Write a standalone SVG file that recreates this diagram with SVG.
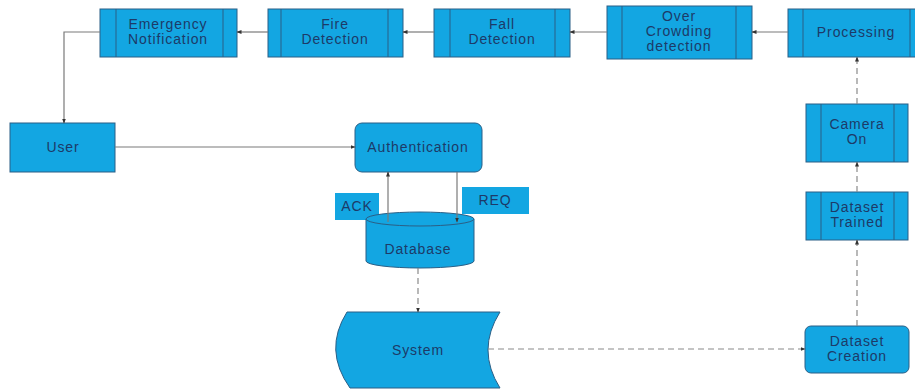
<svg xmlns="http://www.w3.org/2000/svg" width="915" height="389" viewBox="0 0 915 389">
<style>
.box{fill:#13a6e2;stroke:#2b5f86;stroke-width:1}
.inner{stroke:#2b5f86;stroke-width:1}
.t{font-family:"Liberation Sans",Arial,sans-serif;font-size:14px;letter-spacing:0.9px;fill:#1d3a68;text-anchor:middle}
.solid{fill:none;stroke:#7a7a7a;stroke-width:1.2}
.dash{fill:none;stroke:#8a8a8a;stroke-width:1.2;stroke-dasharray:6 4}
</style>
<defs>
<marker id="ah" markerWidth="5" markerHeight="5" refX="4.5" refY="2.5" orient="auto" markerUnits="userSpaceOnUse">
<path d="M0,0.5 L5,2.5 L0,4.5 Z" fill="#333"/>
</marker>
</defs>
<rect width="915" height="389" fill="#ffffff"/>
<g id="emergency">
<rect class="box" x="100" y="9" width="137" height="48"/>
<line class="inner" x1="116" y1="9" x2="116" y2="57"/><line class="inner" x1="223" y1="9" x2="223" y2="57"/>
<text class="t" x="168" y="29">Emergency</text><text class="t" x="168" y="44">Notification</text>
</g>
<g id="fire">
<rect class="box" x="268" y="9" width="135" height="48"/>
<line class="inner" x1="281" y1="9" x2="281" y2="57"/><line class="inner" x1="388" y1="9" x2="388" y2="57"/>
<text class="t" x="335" y="29">Fire</text><text class="t" x="335" y="44">Detection</text>
</g>
<g id="fall">
<rect class="box" x="434" y="9" width="136" height="48"/>
<line class="inner" x1="450" y1="9" x2="450" y2="57"/><line class="inner" x1="555" y1="9" x2="555" y2="57"/>
<text class="t" x="502" y="29">Fall</text><text class="t" x="502" y="44">Detection</text>
</g>
<g id="overcrowding">
<rect class="box" x="607" y="6" width="145" height="53"/>
<line class="inner" x1="622" y1="6" x2="622" y2="59"/><line class="inner" x1="736" y1="6" x2="736" y2="59"/>
<text class="t" x="679" y="21">Over</text><text class="t" x="679" y="36">Crowding</text><text class="t" x="679" y="51">detection</text>
</g>
<g id="processing">
<rect class="box" x="788" y="9" width="128" height="48"/>
<line class="inner" x1="803" y1="9" x2="803" y2="57"/><line class="inner" x1="910" y1="9" x2="910" y2="57"/>
<text class="t" x="856" y="37">Processing</text>
</g>
<g id="user">
<rect class="box" x="10" y="123" width="105" height="49"/>
<text class="t" x="63" y="152">User</text>
</g>
<g id="authentication">
<rect class="box" x="355" y="123" width="127" height="49" rx="7"/>
<text class="t" x="418" y="152">Authentication</text>
</g>
<g id="ack">
<rect class="box" x="335" y="193" width="44" height="27" style="stroke:none"/>
<text class="t" x="357" y="211">ACK</text>
</g>
<g id="req">
<rect class="box" x="462" y="187" width="67" height="27" style="stroke:none"/>
<text class="t" x="495" y="205">REQ</text>
</g>
<g id="database">
<path class="box" d="M366,219 V261 A54,7 0 0 0 474,261 V219 A54,7 0 0 0 366,219 Z"/>
<path class="box" d="M366,219 A54,7 0 0 0 474,219" fill="none"/>
<text class="t" x="418" y="254">Database</text>
</g>
<g id="system">
<path class="box" d="M347,312 L500,312 Q476,350 500,388 L350,388 Q323,350 347,312 Z"/>
<text class="t" x="418" y="355">System</text>
</g>
<g id="camera">
<rect class="box" x="806" y="104" width="102" height="58"/>
<line class="inner" x1="821" y1="104" x2="821" y2="162"/><line class="inner" x1="894" y1="104" x2="894" y2="162"/>
<text class="t" x="857" y="129">Camera</text><text class="t" x="857" y="144">On</text>
</g>
<g id="trained">
<rect class="box" x="806" y="192" width="102" height="48"/>
<line class="inner" x1="821" y1="192" x2="821" y2="240"/><line class="inner" x1="894" y1="192" x2="894" y2="240"/>
<text class="t" x="857" y="212">Dataset</text><text class="t" x="857" y="227">Trained</text>
</g>
<g id="creation">
<rect class="box" x="805" y="326" width="104" height="47" rx="6"/>
<text class="t" x="857" y="346">Dataset</text><text class="t" x="857" y="361">Creation</text>
</g>
<g id="connectors">
<path class="solid" d="M788,32 H752" marker-end="url(#ah)"/>
<path class="solid" d="M607,32 H570" marker-end="url(#ah)"/>
<path class="solid" d="M434,32 H403" marker-end="url(#ah)"/>
<path class="solid" d="M268,32 H237" marker-end="url(#ah)"/>
<path class="solid" d="M100,32 H64 V123" marker-end="url(#ah)"/>
<path class="solid" d="M115,147 H355" marker-end="url(#ah)"/>
<path class="solid" d="M388,222 V172" marker-end="url(#ah)"/>
<path class="solid" d="M457,172 V222" marker-end="url(#ah)"/>
<path class="dash" d="M418,268 V312" marker-end="url(#ah)"/>
<path class="dash" d="M488,349 H805" marker-end="url(#ah)"/>
<path class="dash" d="M857,326 V240" marker-end="url(#ah)"/>
<path class="dash" d="M857,192 V162" marker-end="url(#ah)"/>
<path class="dash" d="M857,104 V57" marker-end="url(#ah)"/>
</g>
</svg>
